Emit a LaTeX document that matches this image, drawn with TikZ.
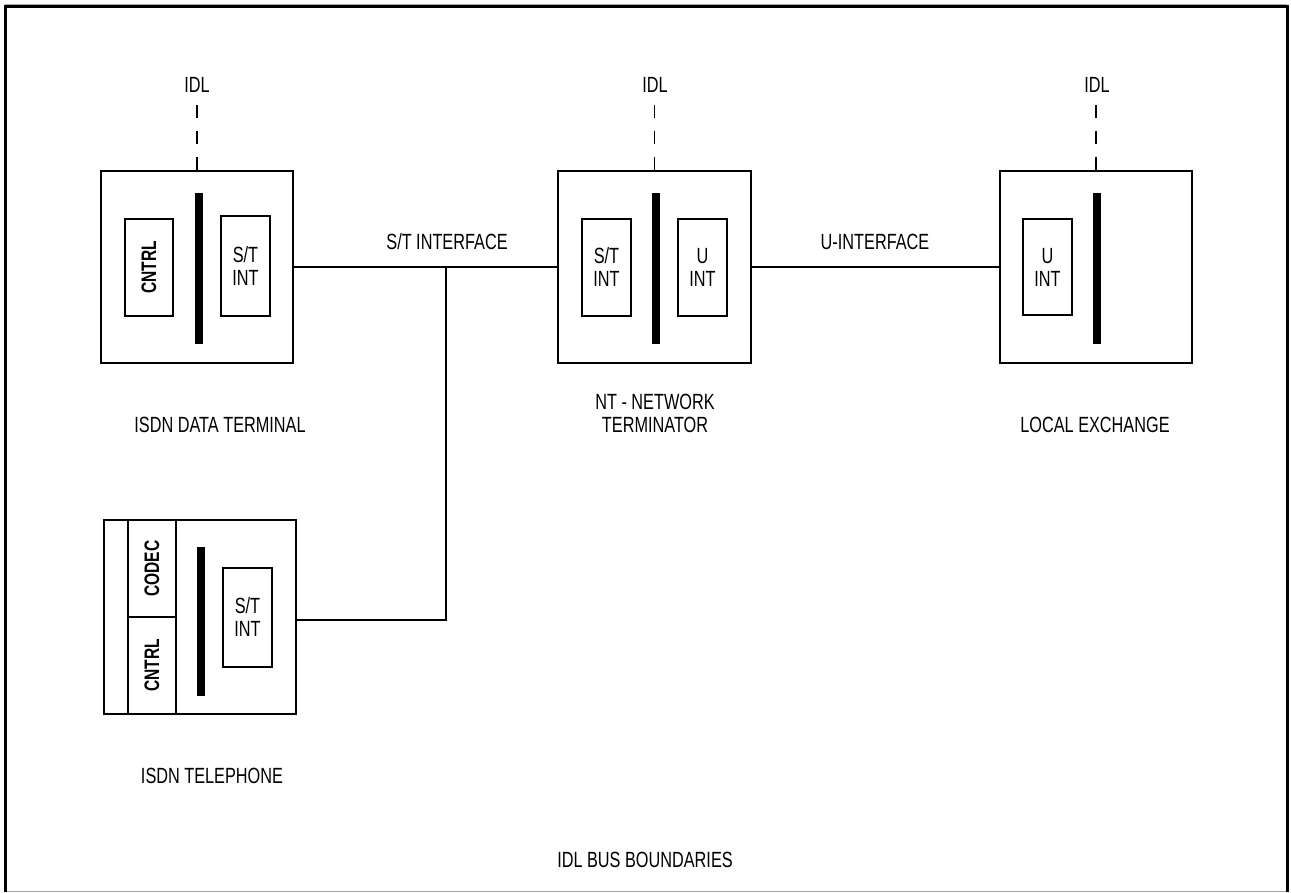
\documentclass[tikz,border=0pt]{standalone}
\usepackage{fontspec}
\setmainfont{Liberation Sans}[FakeStretch=0.74]
\begin{document}
\begin{tikzpicture}[x=1pt,y=-1pt,
  lw/.style={line width=1.5pt},
  unit/.style={draw,lw,minimum width=192pt,minimum height=192pt,inner sep=0pt},
  subbox/.style={draw,lw,minimum width=49pt,minimum height=98pt,inner sep=0pt,align=center,
     font=\fontsize{22}{23}\selectfont},
  vbox/.style={draw,lw,minimum width=48pt,minimum height=97pt,inner sep=0pt,
     font=\fontsize{21}{22}\selectfont\bfseries},
  bar/.style={fill=black,minimum width=8pt,minimum height=151pt,inner sep=0pt},
  lbl/.style={anchor=base,inner sep=0pt,font=\fontsize{22}{23}\selectfont,align=center},
  idl/.style={lw,dash pattern=on 13pt off 13pt},
  wire/.style={lw}]
\useasboundingbox (0,0) rectangle (1291,893);
% frame
\draw[line width=1.5pt,gray!70] (5,891.5) -- (1287,891.5);
\draw[line width=1pt,gray!70] (5,4.5) -- (1287,4.5);
\draw[line width=2.5pt] (5.5,892) -- (5.5,6.5) -- (1287.5,6.5) -- (1287.5,892);

% ISDN data terminal
\node[unit] (dt) at (197,267) {};
\node[bar] (dtbar) at (199,268.5) {};
\node[vbox] (dtc) at (149,267.5) {\rotatebox{90}{CNTRL}};
\node[subbox,minimum height=100pt] (dtst) at (245.5,266) {S/T\\INT};
\node[lbl] (dtl) at (220,432) {ISDN DATA TERMINAL};
\node[lbl] (dtidl) at (197,93) {IDL};
\coordinate (dtd) at (197,105);
\draw[idl] (dtd) -- (dt.north);

% NT
\node[unit,minimum width=193pt] (nt) at (654.5,267) {};
\node[bar] (ntbar) at (656,268.5) {};
\node[subbox,minimum height=97pt] (ntst) at (606.5,267.5) {S/T\\INT};
\node[subbox,minimum height=97pt] (ntu) at (702.5,267.5) {U\\INT};
\node[lbl] (ntl) at (655,432) {NT - NETWORK\\TERMINATOR};
\node[lbl] (ntidl) at (655,93) {IDL};
\coordinate (ntd) at (654.5,105);
\draw[idl] (ntd) -- (nt.north);

% Local exchange
\node[unit] (le) at (1096,267) {};
\node[bar] (lebar) at (1097,268.5) {};
\node[subbox,minimum height=96pt] (leu) at (1047.5,267) {U\\INT};
\node[lbl] (lel) at (1095,432) {LOCAL EXCHANGE};
\node[lbl] (leidl) at (1097,93) {IDL};
\coordinate (led) at (1096,105);
\draw[idl] (led) -- (le.north);

% ISDN telephone
\node[draw,lw,minimum width=192pt,minimum height=194pt,inner sep=0pt] (tel) at (200,617) {};
\node[draw,lw,minimum width=24pt,minimum height=194pt,inner sep=0pt] (telstrip) at (116,617) {};
\node[vbox,minimum height=97pt] (telcodec) at (152,568.5) {\rotatebox{90}{CODEC}};
\node[vbox,minimum height=97pt] (telcntrl) at (152,665.5) {\rotatebox{90}{CNTRL}};
\node[bar,minimum height=149pt] (telbar) at (201,621.5) {};
\node[subbox,minimum height=99pt] (telst) at (247.5,617.5) {S/T\\INT};
\node[lbl] (tell) at (212,783) {ISDN TELEPHONE};

% wires
\coordinate (j) at (446,267);
\coordinate (jt) at (446,620);
\draw[wire] (dt.east |- j) -- (j) -- (nt.west |- j);
\draw[wire] (tel.east |- jt) -- (jt) -- (j);
\draw[wire] (nt.east) -- (le.west);
\node[lbl] (stl) at (447,250) {S/T INTERFACE};
\node[lbl] (ul) at (875,250) {U-INTERFACE};

\node[lbl] (bus) at (645,867) {IDL BUS BOUNDARIES};
\end{tikzpicture}
\end{document}
